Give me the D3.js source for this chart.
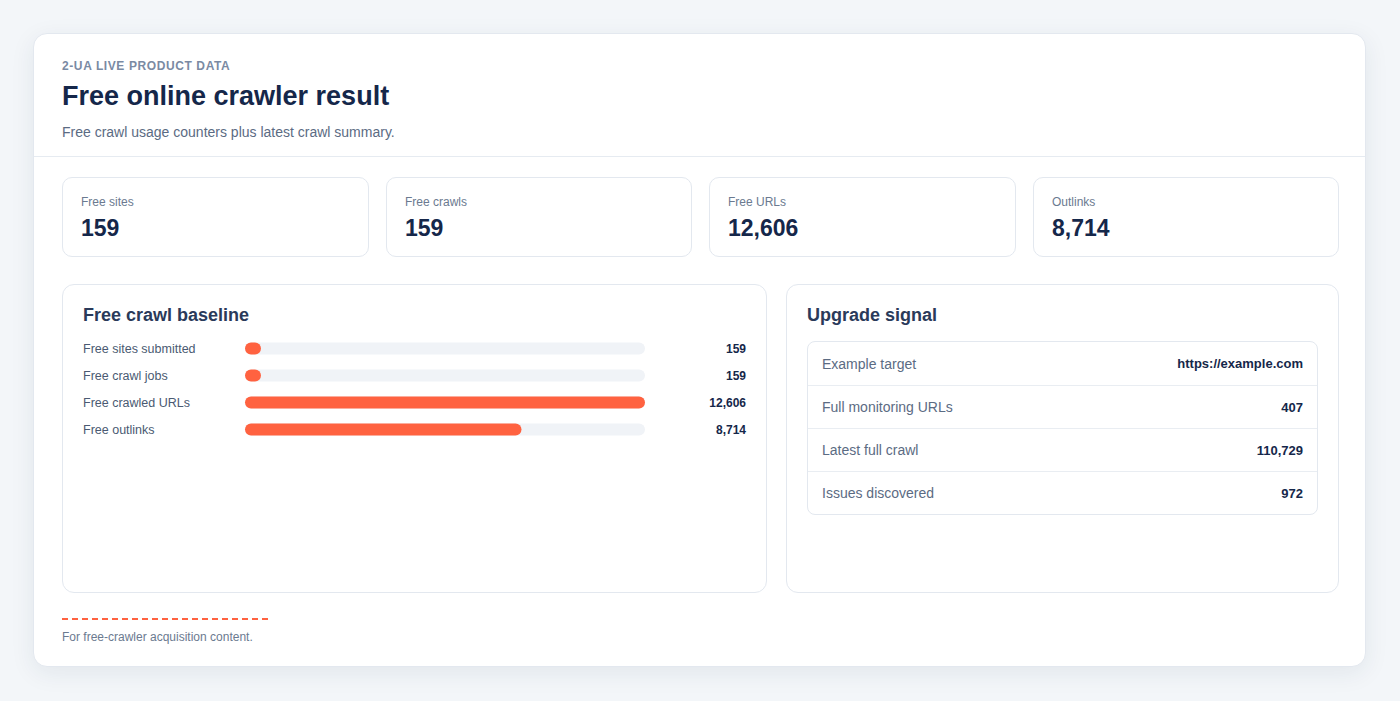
<!DOCTYPE html>
<html><head><meta charset="utf-8">
<script src="https://cdn.jsdelivr.net/npm/d3@7/dist/d3.min.js"></script>
<style>
*{box-sizing:border-box;margin:0;padding:0}
body{width:1400px;height:701px;background:#f3f6f9;font-family:"Liberation Sans",Arial,sans-serif;color:#1a2b4a;overflow:hidden}
.card{position:absolute;left:33px;top:33px;width:1333px;height:634px;background:#fff;border:1px solid #e3e8ef;border-radius:14px;box-shadow:0 6px 24px rgba(30,50,80,0.08)}
.eyebrow{position:absolute;left:28px;top:25px;font-size:12px;font-weight:bold;letter-spacing:0.6px;color:#7a8aa3}
h1{position:absolute;left:28px;top:47px;font-size:27px;font-weight:bold;color:#15274a}
.sub{position:absolute;left:28px;top:90px;font-size:14px;color:#5b6b83}
.div{position:absolute;left:0;top:122px;width:100%;border-top:1px solid #e6ebf1}
.kpi{position:absolute;top:143px;height:80px;border:1px solid #e3e8ef;border-radius:10px}
.kpi .l{position:absolute;left:18px;top:17px;font-size:12px;color:#6b7a90}
.kpi .v{position:absolute;left:18px;top:37px;font-size:23px;font-weight:bold;color:#15274a}
.panel{position:absolute;top:250px;height:309px;border:1px solid #e3e8ef;border-radius:12px}
.panel h2{position:absolute;left:20px;top:20px;font-size:18px;font-weight:bold;color:#2a3a5a}
.tbl{position:absolute;left:20px;top:56px;width:511px;border:1px solid #e3e8ef;border-radius:8px}
.row{height:43px;display:flex;justify-content:space-between;align-items:center;padding:0 14px;font-size:14px;border-top:1px solid #e9edf2}
.row:first-child{border-top:none}
.row .a{color:#5b6b83}.row .b{font-weight:bold;color:#15274a;font-size:13px}
.dash{position:absolute;left:28px;top:584px;width:206px;border-top:2px dashed #ff6240}
.foot{position:absolute;left:28px;top:596px;font-size:12px;color:#6b7a90}
</style></head><body>
<div class="card" id="card">
<div class="eyebrow">2-UA LIVE PRODUCT DATA</div>
<h1>Free online crawler result</h1>
<div class="sub">Free crawl usage counters plus latest crawl summary.</div>
<div class="div"></div>
<div class="dash"></div>
<div class="foot">For free-crawler acquisition content.</div>
</div>
<script>
const kpiLabels=["Free sites","Free crawls","Free URLs","Outlinks"];
const kpiValues=[159,159,12606,8714];
const barLabels=["Free sites submitted","Free crawl jobs","Free crawled URLs","Free outlinks"];
const barValues=[159,159,12606,8714];
const tableLabels=["Example target","Full monitoring URLs","Latest full crawl","Issues discovered"];
const tableValues=["https://example.com","407","110,729","972"];
const fmt=d3.format(",");
const card=d3.select("#card");
const kx=[28,352,675,999],kw=[307,306,307,306];
kpiLabels.forEach((l,i)=>{
  const k=card.append("div").attr("class","kpi").style("left",kx[i]+"px").style("width",kw[i]+"px");
  k.append("div").attr("class","l").text(l);
  k.append("div").attr("class","v").text(fmt(kpiValues[i]));
});
const left=card.append("div").attr("class","panel").style("left","28px").style("width","705px");
left.append("h2").text("Free crawl baseline");
const svg=left.append("svg").attr("width",703).attr("height",200).style("position","absolute").style("left","0").style("top","40px");
const x=d3.scaleLinear().domain([0,d3.max(barValues)]).range([0,400]);
const y=d3.scaleBand().domain(barLabels).range([10,118]);
const g=svg.selectAll("g").data(barLabels).join("g").attr("transform",d=>`translate(0,${y(d)+y.bandwidth()/2})`);
g.append("text").attr("x",20).attr("dy","0.35em").attr("font-size",12.5).attr("fill","#4a5a72").text(d=>d);
g.append("rect").attr("x",182).attr("y",-6).attr("height",12).attr("rx",6).attr("width",400).attr("fill","#f0f3f7");
g.append("rect").attr("x",182).attr("y",-6).attr("height",12).attr("rx",6).attr("width",(d,i)=>Math.max(16,x(barValues[i]))).attr("fill","#ff6240");
g.append("text").attr("x",683).attr("dy","0.35em").attr("text-anchor","end").attr("font-size",12).attr("font-weight","bold").attr("fill","#15274a").text((d,i)=>fmt(barValues[i]));
const right=card.append("div").attr("class","panel").style("left","752px").style("width","553px");
right.append("h2").text("Upgrade signal");
const t=right.append("div").attr("class","tbl");
tableLabels.forEach((l,i)=>{const r=t.append("div").attr("class","row");r.append("span").attr("class","a").text(l);r.append("span").attr("class","b").text(tableValues[i]);});
</script>
</body></html>
